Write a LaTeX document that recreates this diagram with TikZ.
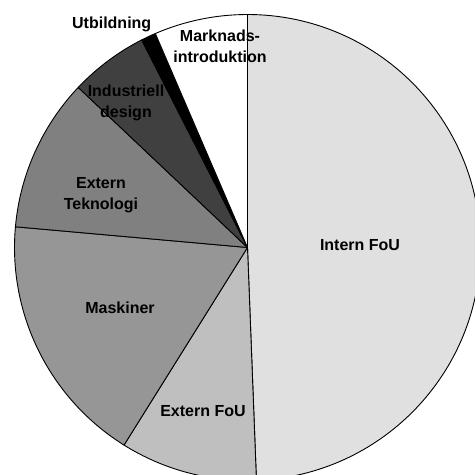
\documentclass[tikz,border=0pt]{standalone}
\usepackage{fontspec}
\setmainfont{Liberation Sans}
\begin{document}
\begin{tikzpicture}[x=1pt,y=1pt,
  wedge/.style={draw=black,line width=0.9pt,line join=round},
  lbl/.style={font=\fontsize{16}{20}\selectfont\bfseries,anchor=base,inner sep=0pt}]
\useasboundingbox (-247.5,-227.5) rectangle (227.5,247.5);
\clip (-247.5,-227.5) rectangle (227.5,247.5);
\fill[white] (-247.5,-227.5) rectangle (227.5,247.5);
\def\R{233}
\coordinate (c) at (0,0);
% Intern FoU
\filldraw[wedge,fill=black!12] (c) -- (90:\R) arc[start angle=90,end angle=-87.8,radius=\R] -- cycle;
% Extern FoU
\filldraw[wedge,fill=black!25] (c) -- (-87.8:\R) arc[start angle=-87.8,end angle=-122,radius=\R] -- cycle;
% Maskiner
\filldraw[wedge,fill=black!41] (c) -- (-122:\R) arc[start angle=238,end angle=174.9,radius=\R] -- cycle;
% Extern Teknologi
\filldraw[wedge,fill=black!50] (c) -- (174.9:\R) arc[start angle=174.9,end angle=136.6,radius=\R] -- cycle;
% Industriell design
\filldraw[wedge,fill=black!75] (c) -- (136.6:\R) arc[start angle=136.6,end angle=117,radius=\R] -- cycle;
% Utbildning
\filldraw[wedge,fill=black] (c) -- (117:\R) arc[start angle=117,end angle=113.3,radius=\R] -- cycle;
% Marknadsintroduktion
\filldraw[wedge,fill=white] (c) -- (113.3:\R) arc[start angle=113.3,end angle=90,radius=\R] -- cycle;
% labels
\node[lbl] (intern) at (112.5,-2.5) {Intern FoU};
\node[lbl] (externfou) at (-44.5,-168.5) {Extern FoU};
\node[lbl] (maskiner) at (-127.5,-65.8) {Maskiner};
\node[lbl] (ext1) at (-146.5,59.2) {Extern};
\node[lbl] (ext2) at (-146.5,38.5) {Teknologi};
\node[lbl] (ind1) at (-121.5,150.8) {Industriell};
\node[lbl] (ind2) at (-121.5,130.1) {design};
\node[lbl] (utb) at (-135.8,219.2) {Utbildning};
\node[lbl] (mark1) at (-27.5,205.8) {Marknads-};
\node[lbl] (mark2) at (-27.5,185.1) {introduktion};
\end{tikzpicture}
\end{document}
